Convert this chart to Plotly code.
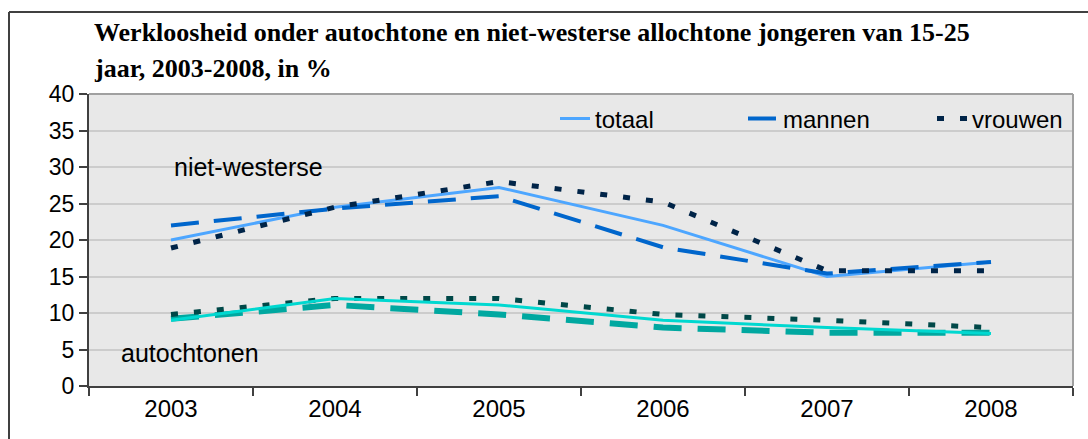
import plotly.graph_objects as go

years = ["2003", "2004", "2005", "2006", "2007", "2008"]
nw_totaal = [20, 24.5, 27.2, 22, 15, 17]
nw_mannen = [22, 24.3, 26, 19, 15.4, 17]
nw_vrouwen = [18.9, 24.5, 28, 25.2, 15.8, 15.8]
au_totaal = [9, 12, 11.1, 9, 8, 7.2]
au_mannen = [9.2, 11.1, 9.8, 8, 7.3, 7.3]
au_vrouwen = [9.8, 12, 12, 9.8, 9, 8]

title_1 = "Werkloosheid onder autochtone en niet-westerse allochtone jongeren van 15-25"
title_2 = "jaar, 2003-2008, in %"

SANS = "Liberation Sans, Arial, sans-serif"
SERIF = "Liberation Serif, Times New Roman, serif"
BG = "#e8e8e8"

fig = go.Figure()
# autochtonen (no legend)
fig.add_trace(go.Scatter(x=years, y=au_mannen, mode="lines", showlegend=False,
                         line=dict(color="#00a8a0", width=6, dash="28px,16px")))
fig.add_trace(go.Scatter(x=years, y=au_vrouwen, mode="lines", showlegend=False,
                         line=dict(color="#004848", width=5, dash="7px,16px")))
fig.add_trace(go.Scatter(x=years, y=au_totaal, mode="lines", showlegend=False,
                         line=dict(color="#00d8d0", width=3)))
# niet-westerse
fig.add_trace(go.Scatter(x=years, y=nw_totaal, mode="lines", name="totaal",
                         line=dict(color="#4da6ff", width=3), legend="legend"))
fig.add_trace(go.Scatter(x=years, y=nw_mannen, mode="lines", name="mannen",
                         line=dict(color="#0066cc", width=4, dash="28px,15px"), legend="legend2"))
fig.add_trace(go.Scatter(x=years, y=nw_vrouwen, mode="lines", name="vrouwen",
                         line=dict(color="#002448", width=5, dash="7px,16px"), legend="legend3"))

L, R, T, B = 89, 15, 94, 53
W, H = 1088, 439
pw, ph = W - L - R, H - T - B

def px_x(px):
    return (px - L) / pw

def px_y(py):
    return (H - B - py) / ph

def leg(x_px):
    return dict(
        orientation="h",
        x=px_x(x_px), xanchor="left",
        y=px_y(119), yanchor="middle",
        bgcolor="rgba(0,0,0,0)",
        font=dict(family=SANS, size=24, color="black"),
        itemwidth=30,
    )

fig.update_layout(
    width=W, height=H,
    margin=dict(l=L, r=R, t=T, b=B),
    paper_bgcolor="white",
    plot_bgcolor=BG,
    font=dict(family=SANS, size=24, color="black"),
    showlegend=True,
    legend=leg(555),
    legend2=leg(743),
    legend3=leg(932),
    xaxis=dict(
        type="category",
        range=[-0.5, 5.5],
        tickson="boundaries",
        ticks="outside", ticklen=8, tickcolor="#404040", tickwidth=1.5,
        showline=True, linecolor="#404040", linewidth=2,
        showgrid=False,
        tickfont=dict(family=SANS, size=24),
        fixedrange=True,
    ),
    yaxis=dict(
        range=[0, 40], dtick=5,
        ticks="outside", ticklen=8, tickcolor="#404040", tickwidth=1.5,
        showline=True, linecolor="#404040", linewidth=2,
        showgrid=True, gridcolor="#cccccc", gridwidth=2,
        zeroline=False,
        tickfont=dict(family=SANS, size=23),
        fixedrange=True,
    ),
    shapes=[
        # legend background box (hides gridline behind legend)
        dict(type="rect", xref="paper", yref="paper",
             x0=px_x(498), x1=px_x(1064), y0=px_y(136), y1=px_y(102),
             fillcolor=BG, line=dict(width=0), layer="between"),
        dict(type="line", xref="paper", yref="paper", x0=0, x1=1, y0=1, y1=1,
             line=dict(color="#a0a0a0", width=2)),
        dict(type="line", xref="paper", yref="paper", x0=1, x1=1, y0=0, y1=1,
             line=dict(color="#a0a0a0", width=2)),
        # outer frame (top and left edges visible)
        dict(type="line", xref="paper", yref="paper",
             x0=px_x(9), x1=px_x(1088), y0=px_y(12), y1=px_y(12),
             line=dict(color="#404040", width=2), layer="below"),
        dict(type="line", xref="paper", yref="paper",
             x0=px_x(9), x1=px_x(9), y0=px_y(12), y1=px_y(445),
             line=dict(color="#404040", width=2), layer="below"),
    ],
    annotations=[
        dict(text="<b>" + title_1 + "</b>", xref="paper", yref="paper",
             x=px_x(92), y=px_y(32), xanchor="left", yanchor="middle",
             showarrow=False, font=dict(family=SERIF, size=26, color="black")),
        dict(text="<b>" + title_2 + "</b>", xref="paper", yref="paper",
             x=px_x(92), y=px_y(68), xanchor="left", yanchor="middle",
             showarrow=False, font=dict(family=SERIF, size=26, color="black")),
        dict(text="niet-westerse", xref="paper", yref="paper",
             x=px_x(172), y=px_y(167), xanchor="left", yanchor="middle",
             showarrow=False, font=dict(family=SANS, size=25, color="black")),
        dict(text="autochtonen", xref="paper", yref="paper",
             x=px_x(119), y=px_y(353), xanchor="left", yanchor="middle",
             showarrow=False, font=dict(family=SANS, size=25, color="black")),
    ],
)

fig.write_html(
    "out.html",
    config={"displayModeBar": False},
    post_script=(
        "document.documentElement.style.overflow='hidden';"
        "document.body.style.margin='0';document.body.style.padding='0';"
        "document.body.style.overflow='hidden';"
    ),
)
